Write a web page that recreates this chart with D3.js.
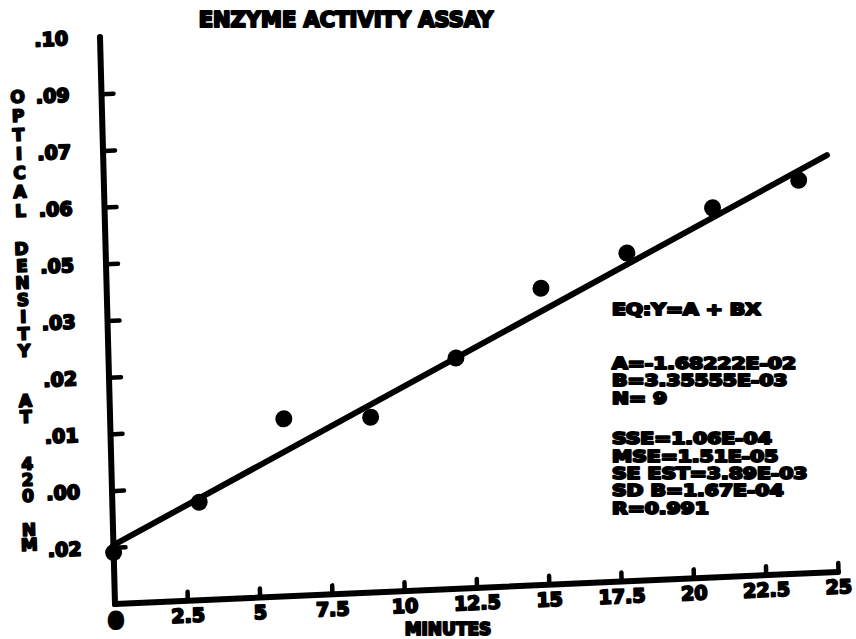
<!DOCTYPE html>
<html>
<head>
<meta charset="utf-8">
<script src="https://cdn.jsdelivr.net/npm/d3@7"></script>
<style>
  html, body { margin: 0; padding: 0; background: #fff; }
  svg { display: block; }
  text { font-family: "DejaVu Sans", sans-serif; font-weight: bold; fill: #000; stroke: #000; stroke-linejoin: round; }
</style>
</head>
<body>
<svg id="chart" width="856" height="639"></svg>
<script>
// ---- data ----
const chartTitle = "ENZYME ACTIVITY ASSAY";
const xTitle = "MINUTES";
const yTitleWords = ["OPTICAL", "DENSITY", "AT", "420", "NM"];
const minutes = [0, 3, 6, 9, 12, 15, 18, 21, 24];
const density = [-0.0212, -0.0103, 0.0084, 0.0079, 0.0209, 0.0364, 0.0438, 0.0535, 0.0591];
const fitX = [0, 25];
const fitY = [-0.0195, 0.0647];
const xTickValues = [0, 2.5, 5, 7.5, 10, 12.5, 15, 17.5, 20, 22.5, 25];
const xTickLabels = ["0", "2.5", "5", "7.5", "10", "12.5", "15", "17.5", "20", "22.5", "25"];
const yTickValues = [-0.02, -0.00667, 0.00667, 0.02, 0.03333, 0.04667, 0.06, 0.07333, 0.08667, 0.10];
const yTickLabels = [".02", ".00", ".01", ".02", ".03", ".05", ".06", ".07", ".09", ".10"];
const statsLines = [
  "EQ:Y=A + BX",
  "A=-1.68222E-02",
  "B=3.35555E-03",
  "N= 9",
  "SSE=1.06E-04",
  "MSE=1.51E-05",
  "SE EST=3.89E-03",
  "SD B=1.67E-04",
  "R=0.991"
];

// ---- layout ----
const svg = d3.select("#chart");
const W = 723, H = 567;
const x = d3.scaleLinear().domain([0, 25]).range([0, W]);
const y = d3.scaleLinear().domain([-0.03333, 0.10]).range([H, 0]);

// scanned plot is slightly skewed: affine frame
const g = svg.append("g").attr("transform", "matrix(1,-0.04426,0.02646,1,100,37)");

// axes
const xAxis = d3.axisBottom(x)
  .tickValues(xTickValues)
  .tickFormat((d, i) => xTickLabels[i])
  .tickSizeInner(-9).tickSizeOuter(0).tickPadding(8);
const yAxis = d3.axisLeft(y)
  .tickValues(yTickValues)
  .tickFormat((d, i) => yTickLabels[i])
  .tickSizeInner(-12).tickSizeOuter(0).tickPadding(32);

const gx = g.append("g").attr("transform", `translate(0,${H})`).call(xAxis);
const gy = g.append("g").call(yAxis);

[gx, gy].forEach(a => {
  a.select(".domain").remove();
  a.selectAll(".tick line").attr("stroke", "#000").attr("stroke-width", 4.5).attr("stroke-linecap", "round");
  a.selectAll(".tick text").attr("font-family", "DejaVu Sans").attr("font-weight", "bold")
    .attr("stroke-width", 2).attr("fill", "#000");
});
gx.selectAll(".tick text").attr("font-size", 19);
gy.selectAll(".tick text").attr("font-size", 19);
gx.selectAll(".tick").filter(d => d === 0).select("line").remove();
gx.selectAll(".tick").filter(d => d === 0).select("text").attr("stroke-width", 5).attr("dy", "0.8em");
gy.selectAll(".tick").filter(d => d === 0.10).select("line").remove();

// axis lines
g.append("line").attr("x1", x(0)).attr("x2", x(0)).attr("y1", 0).attr("y2", H)
  .attr("stroke", "#000").attr("stroke-width", 6).attr("stroke-linecap", "round");
g.append("line").attr("x1", x(0)).attr("x2", x(25)).attr("y1", H).attr("y2", H)
  .attr("stroke", "#000").attr("stroke-width", 6).attr("stroke-linecap", "round");

// regression line
const line = d3.line().x(d => x(d[0])).y(d => y(d[1]));
g.append("path").datum(fitX.map((v, i) => [v, fitY[i]]))
  .attr("d", line).attr("fill", "none").attr("stroke", "#000")
  .attr("stroke-width", 6).attr("stroke-linecap", "round");

// points
g.selectAll("circle.pt").data(minutes.map((m, i) => [m, density[i]]))
  .join("circle").attr("class", "pt")
  .attr("cx", d => x(d[0])).attr("cy", d => y(d[1])).attr("r", 8.5).attr("fill", "#000");

// vertical axis title (stacked letters)
const wordLayout = [[56, 19], [208, 17], [360, 16], [423, 16], [489, 15]];
yTitleWords.forEach((w, wi) => {
  const [start, step] = wordLayout[wi];
  w.split("").forEach((ch, ci) => {
    g.append("text").attr("x", -84).attr("y", start + ci * step)
      .attr("text-anchor", "middle").attr("dominant-baseline", "central")
      .attr("font-size", 17).attr("stroke-width", 1.8).text(ch);
  });
});

// x title
svg.append("text").attr("x", 448).attr("y", 635).attr("text-anchor", "middle")
  .attr("font-size", 17).attr("stroke-width", 2).text(xTitle);

// chart title
svg.append("text").attr("x", 346).attr("y", 27).attr("text-anchor", "middle")
  .attr("font-size", 21).attr("stroke-width", 2.2).text(chartTitle);

// statistics block
const statY = [309, 363, 380, 398, 438, 456, 473, 490, 508];
statsLines.forEach((s, i) => {
  svg.append("text")
    .attr("transform", `translate(612,${statY[i] + 6}) scale(1.4,1.05)`)
    .attr("font-size", 14.5).attr("stroke-width", 1.9).text(s);
});
</script>
</body>
</html>
